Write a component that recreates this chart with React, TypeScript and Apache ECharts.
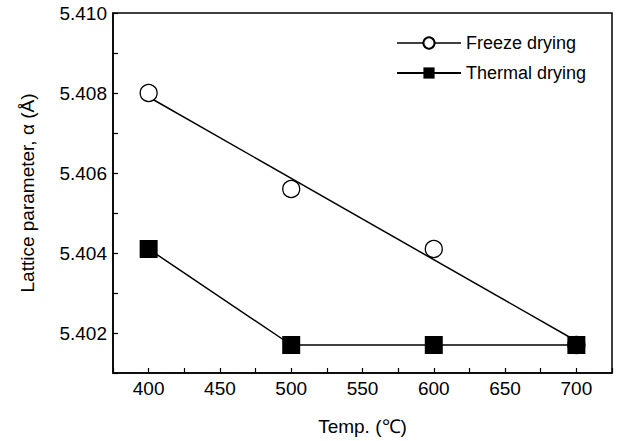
import React, { useEffect, useRef } from "react";
import * as echarts from "echarts";

const temps = [400, 500, 600, 700];
const freezeDrying = [5.408, 5.4056, 5.4041, 5.4017];
const thermalDrying = [5.4041, 5.4017, 5.4017, 5.4017];
const fitTemps = [400, 700];
const freezeFit = [5.4079, 5.4018];
const seriesNames = ["Freeze drying", "Thermal drying"];

const FONT = "Liberation Sans, Arial, sans-serif";

export default function App() {
  const ref = useRef<HTMLDivElement>(null);
  useEffect(() => {
    if (!ref.current) return;
    const chart = echarts.init(ref.current, undefined, { renderer: "svg" });
    chart.setOption({
      animation: false,
      backgroundColor: "#fff",
      textStyle: { fontFamily: FONT, color: "#000" },
      grid: {
        left: 113,
        right: 6,
        top: 13,
        bottom: 63,
        show: true,
        borderColor: "#000",
        borderWidth: 1.5,
        backgroundColor: "transparent",
      },
      legend: {
        orient: "vertical",
        left: 391,
        top: 29,
        itemWidth: 64,
        itemHeight: 14,
        itemGap: 12,
        textStyle: { fontSize: 18, color: "#000", fontFamily: FONT, padding: [0, 0, 0, 0] },
        data: [
          { name: seriesNames[0], lineStyle: { color: "#000", width: 1.5, opacity: 1 } },
          { name: seriesNames[1] },
        ],
      },
      xAxis: {
        type: "value",
        min: 375,
        max: 725,
        interval: 25,
        name: "Temp. (℃)",
        nameLocation: "middle",
        nameGap: 44,
        nameTextStyle: { fontSize: 19, color: "#000", fontFamily: FONT },
        axisLine: { show: true, lineStyle: { color: "#000", width: 1.5 } },
        axisTick: { show: true, inside: true, length: 5, lineStyle: { color: "#000", width: 1.2 } },
        axisLabel: {
          fontSize: 19,
          color: "#000",
          fontFamily: FONT,
          margin: 6,
          formatter: (v: number) => (v % 50 === 0 ? String(v) : ""),
        },
        splitLine: { show: false },
      },
      yAxis: {
        type: "value",
        min: 5.401,
        max: 5.41,
        interval: 0.001,
        name: "Lattice parameter, α (Å)",
        nameLocation: "middle",
        nameGap: 76,
        nameTextStyle: { fontSize: 19, color: "#000", fontFamily: FONT },
        axisLine: { show: true, lineStyle: { color: "#000", width: 1.5 } },
        axisTick: { show: true, inside: true, length: 5, lineStyle: { color: "#000", width: 1.2 } },
        axisLabel: {
          fontSize: 19,
          color: "#000",
          fontFamily: FONT,
          margin: 6,
          formatter: (v: number) => {
            const k = Math.round(v * 1000);
            return k % 2 === 0 ? v.toFixed(3) : "";
          },
        },
        splitLine: { show: false },
      },
      series: [
        {
          name: "fit",
          type: "line",
          data: fitTemps.map((t, i) => [t, freezeFit[i]]),
          showSymbol: false,
          symbol: "none",
          lineStyle: { color: "#000", width: 1.5 },
          z: 1,
          silent: true,
        },
        {
          name: seriesNames[0],
          type: "line",
          data: temps.map((t, i) => [t, freezeDrying[i]]),
          symbol: "circle",
          symbolSize: 17,
          itemStyle: { color: "#fff", borderColor: "#000", borderWidth: 1.3 },
          lineStyle: { color: "#000", width: 0, opacity: 0 },
          z: 3,
        },
        {
          name: seriesNames[1],
          type: "line",
          data: temps.map((t, i) => [t, thermalDrying[i]]),
          symbol: "rect",
          symbolSize: 18,
          itemStyle: { color: "#000", borderColor: "#000", borderWidth: 0 },
          lineStyle: { color: "#000", width: 1.5 },
          z: 4,
        },
      ],
    });
    return () => chart.dispose();
  }, []);
  return <div ref={ref} style={{ width: 618, height: 441, position: "absolute", left: 0, top: 0 }} />;
}
